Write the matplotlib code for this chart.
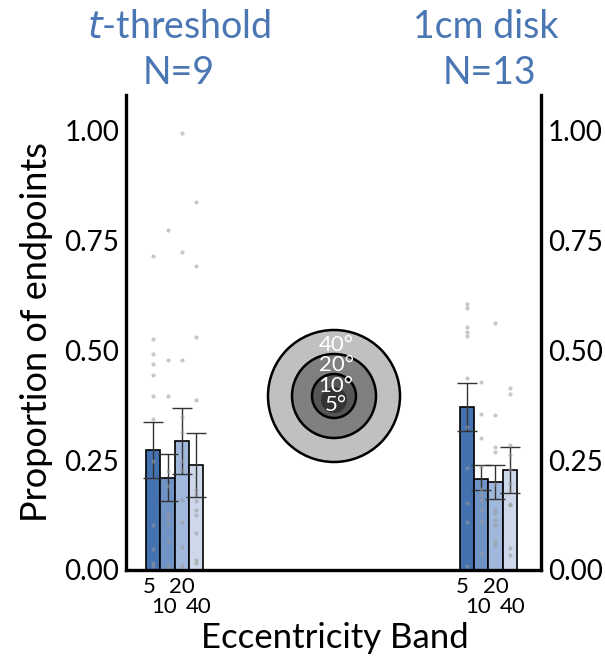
import numpy as np
import matplotlib
matplotlib.use("Agg")
import matplotlib.pyplot as plt
import matplotlib.patches as patches
import matplotlib.transforms as mtransforms

plt.rcParams['font.family'] = ['Lato', 'DejaVu Sans']

bands = ['5', '10', '20', '40']
group_names = ['$\\it{t}$-threshold', '1cm disk']
group_n = ['N=9', 'N=13']
bar_colors = ['#4472b0', '#7093c6', '#a0b8dc', '#cdd9eb']

# mean, lower and upper of error bars, per group (bands 5, 10, 20, 40)
tthr_mean = [0.273, 0.209, 0.294, 0.238]
tthr_lo = [0.209, 0.158, 0.219, 0.166]
tthr_hi = [0.337, 0.264, 0.369, 0.311]
disk_mean = [0.370, 0.208, 0.200, 0.227]
disk_lo = [0.316, 0.181, 0.161, 0.175]
disk_hi = [0.425, 0.238, 0.238, 0.279]

# individual observations
tthr_pts = [
    [0.715, 0.526, 0.491, 0.469, 0.444, 0.395, 0.344, 0.249, 0.103, 0.047, 0.017, 0.009],
    [0.774, 0.478, 0.395, 0.226, 0.192, 0.128, 0.118, 0.106, 0.066, 0.008],
    [0.996, 0.725, 0.478, 0.349, 0.314, 0.248, 0.228, 0.160, 0.110, 0.053, 0.008],
    [0.837, 0.693, 0.530, 0.387, 0.182, 0.172, 0.157, 0.137, 0.125, 0.085, 0.023, 0.015],
]
disk_pts = [
    [0.605, 0.596, 0.553, 0.541, 0.532, 0.438, 0.325, 0.233, 0.152, 0.109, 0.010],
    [0.429, 0.355, 0.300, 0.235, 0.184, 0.171, 0.159, 0.137, 0.111, 0.039],
    [0.563, 0.352, 0.279, 0.268, 0.195, 0.137, 0.129, 0.114, 0.103, 0.067, 0.056],
    [0.414, 0.401, 0.285, 0.262, 0.229, 0.197, 0.182, 0.150, 0.147, 0.049, 0.033],
]

group_x = [0, 22]
means = [tthr_mean, disk_mean]
los = [tthr_lo, disk_lo]
his = [tthr_hi, disk_hi]
pts = [tthr_pts, disk_pts]

fig = plt.figure(figsize=(6.05, 6.6), dpi=100)
ax = fig.add_axes([0.2083, 0.1364, 0.686, 0.720])
blend = mtransforms.blended_transform_factory(ax.transData, fig.transFigure)

for g in range(2):
    xs = group_x[g] + np.arange(4)
    m = np.array(means[g])
    ax.bar(xs, m, width=1.0, color=bar_colors, edgecolor='black', linewidth=1.2, zorder=2)
    yerr = [m - np.array(los[g]), np.array(his[g]) - m]
    ax.errorbar(xs, m, yerr=yerr, fmt='none', ecolor='#333333', elinewidth=1.0,
                capsize=7, capthick=1.0, zorder=3)
    for i in range(4):
        ax.scatter(np.full(len(pts[g][i]), xs[i]), pts[g][i], s=9, color='#999999',
                   alpha=0.55, linewidths=0, zorder=4)
    # staggered tick labels
    for i, b in enumerate(bands):
        dx = [-0.3, -0.25, 0.0, 0.2][i]
        ax.text(xs[i] + dx, -0.016 if i % 2 == 0 else -0.062, b, ha='center', va='top',
                fontsize=16, clip_on=False)
    cx = xs.mean() + (0.3 if g == 0 else -0.2)
    ax.text(cx, 1 - 27 / 660, group_names[g], ha='center', va='center', fontsize=27,
            color='#4a77b4', transform=blend)
    ax.text(cx + (0 if g == 0 else 0.3), 1 - 73 / 660, group_n[g], ha='center', va='center',
            fontsize=27, color='#4a77b4', transform=blend)

ax.set_xlim(-1.91, 27.2)
ax.set_ylim(0, 1.082)
ax.set_xticks([])
ax.set_yticks([0, 0.25, 0.5, 0.75, 1.0])
ax.set_yticklabels(['0.00', '0.25', '0.50', '0.75', '1.00'])
ax.tick_params(axis='y', length=0, labelsize=20, pad=5, labelright=True)
ax.spines['top'].set_visible(False)
for s in ['left', 'right', 'bottom']:
    ax.spines[s].set_linewidth(2.4)
ax.set_ylabel('Proportion of endpoints', fontsize=26, labelpad=8)
fig.text(335 / 605, 1 - 638 / 660, 'Eccentricity Band', ha='center', va='center', fontsize=25)

# eccentricity legend inset
ins = fig.add_axes([(334 - 70) / 605, 1 - (396 + 70) / 660, 140 / 605, 140 / 660])
ins.set_xlim(-70, 70)
ins.set_ylim(-70, 70)
ins.set_aspect('equal')
ins.axis('off')
for r, c in [(66, '#c0c0c0'), (42, '#808080'), (22, '#555555')]:
    ins.add_patch(patches.Circle((0, 0), r, facecolor=c, edgecolor='black', linewidth=1.8))
ins.add_patch(patches.Circle((0, -4), 13, facecolor='#333333', edgecolor='none'))
for lab, yy in [('40°', 51), ('20°', 31), ('10°', 10), ('5°', -9)]:
    ins.text(2, yy, lab, ha='center', va='center', fontsize=16, color='white')

fig.savefig('out.png', dpi=100)
